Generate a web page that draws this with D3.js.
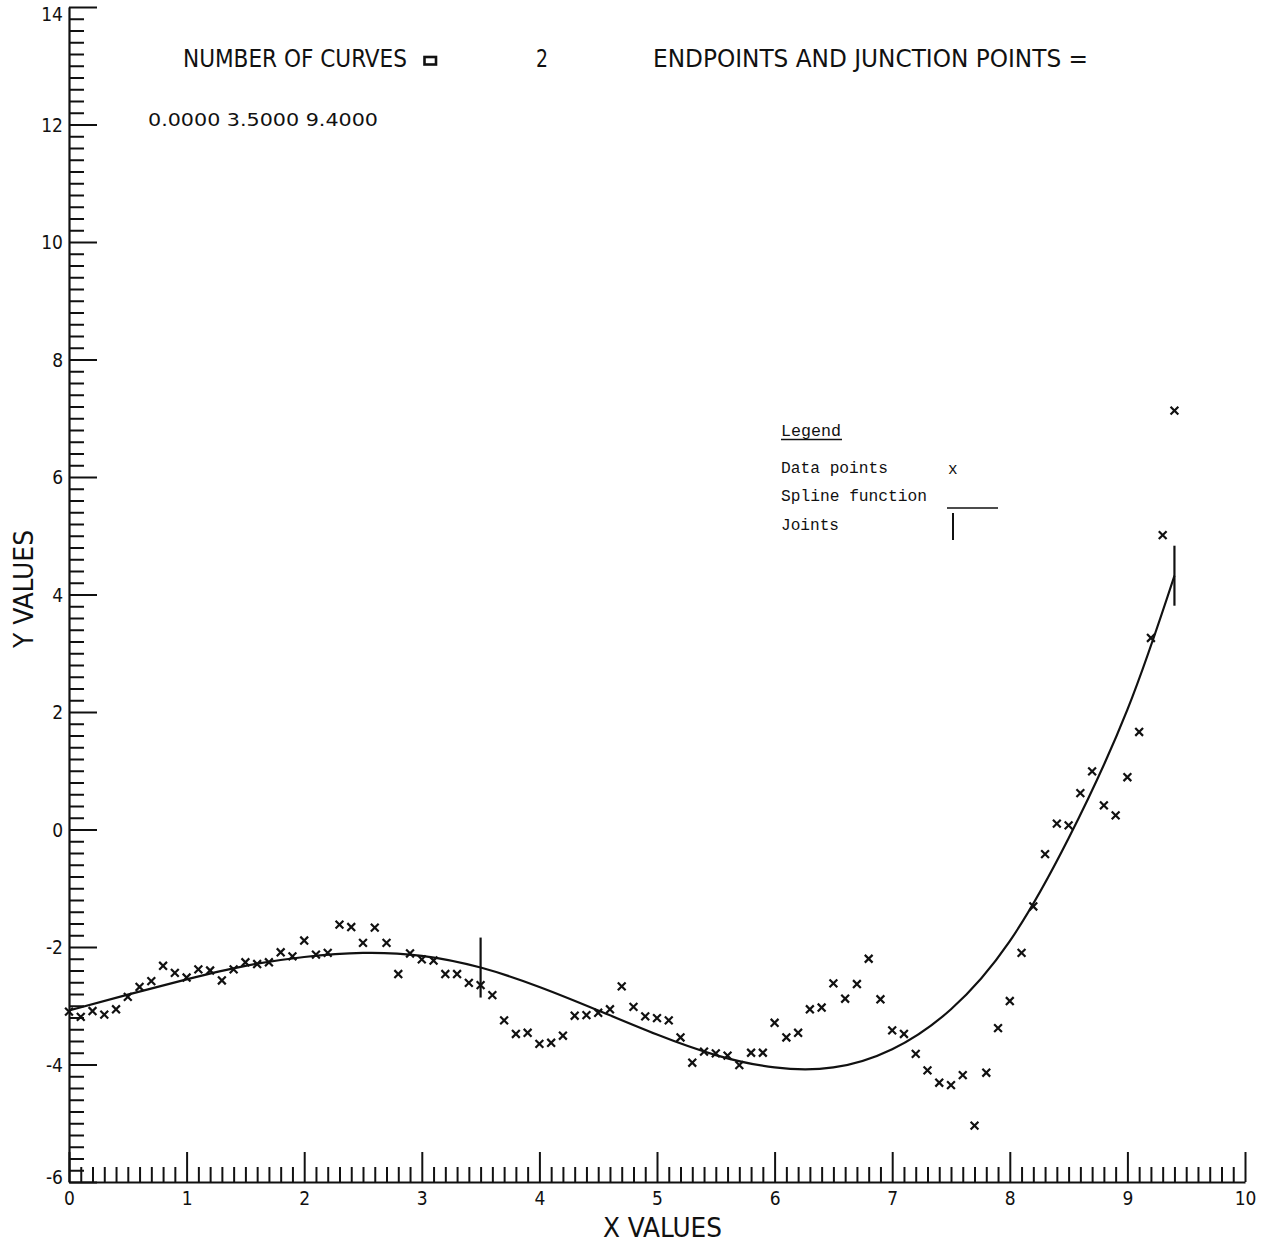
<!DOCTYPE html>
<html>
<head>
<meta charset="utf-8">
<script src="https://cdn.jsdelivr.net/npm/d3@7"></script>
<style>
  html, body { margin: 0; padding: 0; background: #fff; }
  svg { display: block; }
  .plot-font { font-family: "Liberation Sans Narrow", "DejaVu Sans Condensed", "Liberation Sans", sans-serif; }
  .type-font { font-family: "Courier New", "Liberation Mono", "DejaVu Sans Mono", monospace; }
</style>
</head>
<body>
<svg id="chart" width="1272" height="1246"></svg>
<script>
// Observed data points (x, y)
const dataX = [
  0.0, 0.1, 0.2, 0.3, 0.4, 0.5, 0.6, 0.7, 0.8, 0.9,
  1.0, 1.1, 1.2, 1.3, 1.4, 1.5, 1.6, 1.7, 1.8, 1.9,
  2.0, 2.1, 2.2, 2.3, 2.4, 2.5, 2.6, 2.7, 2.8, 2.9,
  3.0, 3.1, 3.2, 3.3, 3.4, 3.5, 3.6, 3.7, 3.8, 3.9,
  4.0, 4.1, 4.2, 4.3, 4.4, 4.5, 4.6, 4.7, 4.8, 4.9,
  5.0, 5.1, 5.2, 5.3, 5.4, 5.5, 5.6, 5.7, 5.8, 5.9,
  6.0, 6.1, 6.2, 6.3, 6.4, 6.5, 6.6, 6.7, 6.8, 6.9,
  7.0, 7.1, 7.2, 7.3, 7.4, 7.5, 7.6, 7.7, 7.8, 7.9,
  8.0, 8.1, 8.2, 8.3, 8.4, 8.5, 8.6, 8.7, 8.8, 8.9,
  9.0, 9.1, 9.2, 9.3, 9.4
];
const dataY = [
  -3.10, -3.19, -3.09, -3.15, -3.06, -2.85, -2.68, -2.58, -2.32, -2.44,
  -2.52, -2.38, -2.40, -2.57, -2.38, -2.26, -2.29, -2.26, -2.09, -2.16,
  -1.89, -2.13, -2.10, -1.62, -1.66, -1.93, -1.67, -1.93, -2.46, -2.11,
  -2.21, -2.23, -2.46, -2.46, -2.61, -2.65, -2.82, -3.25, -3.48, -3.46,
  -3.65, -3.63, -3.51, -3.17, -3.16, -3.12, -3.06, -2.67, -3.02, -3.18,
  -3.21, -3.25, -3.54, -3.97, -3.78, -3.81, -3.85, -4.01, -3.80, -3.80,
  -3.29, -3.54, -3.46, -3.06, -3.03, -2.62, -2.88, -2.63, -2.20, -2.89,
  -3.42, -3.48, -3.82, -4.10, -4.31, -4.35, -4.18, -5.04, -4.14, -3.38,
  -2.92, -2.10, -1.31, -0.42, 0.10, 0.07, 0.62, 0.99, 0.41, 0.24,
  0.89, 1.66, 3.26, 5.01, 7.13
];

// Fitted spline function, sampled values
const splineX = [0, 0.5, 1, 1.5, 2, 2.5, 3, 3.5, 4, 4.5, 5, 5.5, 6, 6.5, 7, 7.5, 8, 8.5, 9, 9.4];
const splineY = [-3.08, -2.81, -2.55, -2.32, -2.17, -2.10, -2.15, -2.35, -2.68, -3.08,
                 -3.49, -3.84, -4.05, -4.05, -3.74, -3.06, -1.90, -0.15, 2.04, 4.32];

// Junction points marked on the curve
const jointX = [3.5, 9.4];

// Axis tick labels
const xTickLabels = ["0", "1", "2", "3", "4", "5", "6", "7", "8", "9", "10"];
const yTickLabels = ["-6", "-4", "-2", "0", "2", "4", "6", "8", "10", "12", "14"];

// Header text
const headerLine1a = "NUMBER OF CURVES";
const headerCount = "2";
const headerLine1b = "ENDPOINTS AND JUNCTION POINTS =";
const headerLine2 = "0.0000 3.5000 9.4000";

// Legend entries
const legendTitle = "Legend";
const legendItems = ["Data points", "Spline function", "Joints"];

const svg = d3.select("#chart");
svg.append("rect").attr("width", 1272).attr("height", 1246).attr("fill", "#fff");

const x = d3.scaleLinear().domain([0, 10]).range([69, 1245]);
const y = d3.scaleLinear().domain([-6, 14]).range([1182, 7]);

const ink = "#111";

// ---- Axes ----
const xMajor = xTickLabels.map(Number);
const yMajor = yTickLabels.map(Number);
const xMinor = d3.range(0, 101).map(i => i / 10).filter(v => Math.abs(v - Math.round(v)) > 1e-6);
const yMinor = d3.range(-30, 71).map(i => i / 5).filter(v => Math.abs(v / 2 - Math.round(v / 2)) > 1e-6);

function styleAxis(g) {
  g.select(".domain").attr("stroke", ink).attr("stroke-width", 2.2);
  g.selectAll(".tick line").attr("stroke", ink).attr("stroke-width", 2);
  g.selectAll(".tick text").attr("fill", ink).attr("class", "plot-font").attr("font-size", 19);
}

// x axis: minor ticks
svg.append("g")
  .attr("transform", `translate(0,${y(-6)})`)
  .call(d3.axisBottom(x).tickValues(xMinor).tickSize(-15).tickFormat(""))
  .call(g => { styleAxis(g); g.select(".domain").remove(); });

// x axis: major ticks with labels
svg.append("g")
  .attr("transform", `translate(0,${y(-6)})`)
  .call(d3.axisBottom(x).tickValues(xMajor).tickSizeInner(-30).tickSizeOuter(0).tickPadding(9)
        .tickFormat((d, i) => xTickLabels[i]))
  .call(styleAxis)
  .call(g => g.selectAll(".tick text").attr("dy", "0.76em"));

// y axis: minor ticks
svg.append("g")
  .attr("transform", `translate(${x(0)},0)`)
  .call(d3.axisLeft(y).tickValues(yMinor).tickSize(-15).tickFormat(""))
  .call(g => { styleAxis(g); g.select(".domain").remove(); });

// y axis: major ticks with labels (end labels nudged inside the frame)
svg.append("g")
  .attr("transform", `translate(${x(0)},0)`)
  .call(d3.axisLeft(y).tickValues(yMajor).tickSizeInner(-28).tickSizeOuter(0).tickPadding(6)
        .tickFormat((d, i) => yTickLabels[i]))
  .call(styleAxis)
  .call(g => g.selectAll(".tick text")
    .attr("dy", "0.36em")
    .attr("y", d => d === 14 ? 7 : (d === -6 ? -5 : 0)));

// ---- Axis titles ----
svg.append("text")
  .attr("class", "plot-font")
  .attr("x", 603).attr("y", 1237)
  .attr("font-size", 26).attr("fill", ink)
  .attr("textLength", 119).attr("lengthAdjust", "spacingAndGlyphs")
  .text("X VALUES");

svg.append("text")
  .attr("class", "plot-font")
  .attr("transform", `translate(33,648) rotate(-90)`)
  .attr("font-size", 26).attr("fill", ink)
  .attr("textLength", 118).attr("lengthAdjust", "spacingAndGlyphs")
  .text("Y VALUES");

// ---- Header ----
svg.append("text")
  .attr("class", "plot-font")
  .attr("x", 183).attr("y", 67)
  .attr("font-size", 24).attr("fill", ink)
  .attr("textLength", 224).attr("lengthAdjust", "spacingAndGlyphs")
  .text(headerLine1a);

svg.append("rect")
  .attr("x", 424.5).attr("y", 57).attr("width", 11.5).attr("height", 7.5)
  .attr("fill", "none").attr("stroke", ink).attr("stroke-width", 2.6);

svg.append("text")
  .attr("class", "plot-font")
  .attr("x", 536).attr("y", 67)
  .attr("font-size", 24).attr("fill", ink)
  .attr("textLength", 12).attr("lengthAdjust", "spacingAndGlyphs")
  .text(headerCount);

svg.append("text")
  .attr("class", "plot-font")
  .attr("x", 653).attr("y", 67)
  .attr("font-size", 24).attr("fill", ink)
  .attr("textLength", 435).attr("lengthAdjust", "spacingAndGlyphs")
  .text(headerLine1b);

svg.append("text")
  .attr("class", "plot-font")
  .attr("x", 148).attr("y", 126)
  .attr("font-size", 18).attr("fill", ink)
  .attr("textLength", 230).attr("lengthAdjust", "spacingAndGlyphs")
  .text(headerLine2);

// ---- Spline curve ----
const splinePts = splineX.map((v, i) => [v, splineY[i]]);
const line = d3.line().x(d => x(d[0])).y(d => y(d[1])).curve(d3.curveNatural);
svg.append("path")
  .attr("d", line(splinePts))
  .attr("fill", "none").attr("stroke", ink).attr("stroke-width", 2.2);

// ---- Joints ----
svg.append("g").selectAll("line")
  .data(jointX)
  .join("line")
  .attr("x1", d => x(d)).attr("x2", d => x(d))
  .attr("y1", d => y(splineY[splineX.indexOf(d)]) - 30)
  .attr("y2", d => y(splineY[splineX.indexOf(d)]) + 30)
  .attr("stroke", ink).attr("stroke-width", 2.2);

// ---- Data point markers ----
const m = 3.9;
svg.append("g").selectAll("path")
  .data(dataX.map((v, i) => [v, dataY[i]]))
  .join("path")
  .attr("d", d => {
    const cx = x(d[0]), cy = y(d[1]);
    return `M${cx - m},${cy - m}L${cx + m},${cy + m}M${cx - m},${cy + m}L${cx + m},${cy - m}`;
  })
  .attr("stroke", ink).attr("stroke-width", 2.2).attr("fill", "none");

// ---- Legend ----
const lg = svg.append("g").attr("class", "type-font").attr("fill", ink).attr("font-size", 16);
lg.append("text").attr("x", 781).attr("y", 436)
  .attr("textLength", 60).attr("lengthAdjust", "spacingAndGlyphs").text(legendTitle);
lg.append("line").attr("x1", 781).attr("x2", 842).attr("y1", 439.5).attr("y2", 439.5)
  .attr("stroke", ink).attr("stroke-width", 1.4);
lg.append("text").attr("x", 781).attr("y", 473)
  .attr("textLength", 107).attr("lengthAdjust", "spacingAndGlyphs").text(legendItems[0]);
lg.append("text").attr("x", 781).attr("y", 501)
  .attr("textLength", 146).attr("lengthAdjust", "spacingAndGlyphs").text(legendItems[1]);
lg.append("text").attr("x", 781).attr("y", 530)
  .attr("textLength", 58).attr("lengthAdjust", "spacingAndGlyphs").text(legendItems[2]);
lg.append("text").attr("x", 948).attr("y", 474).text("x");
lg.append("line").attr("x1", 947).attr("x2", 998).attr("y1", 508).attr("y2", 508)
  .attr("stroke", ink).attr("stroke-width", 1.6);
lg.append("line").attr("x1", 953).attr("x2", 953).attr("y1", 513).attr("y2", 540)
  .attr("stroke", ink).attr("stroke-width", 2);
</script>
</body>
</html>
